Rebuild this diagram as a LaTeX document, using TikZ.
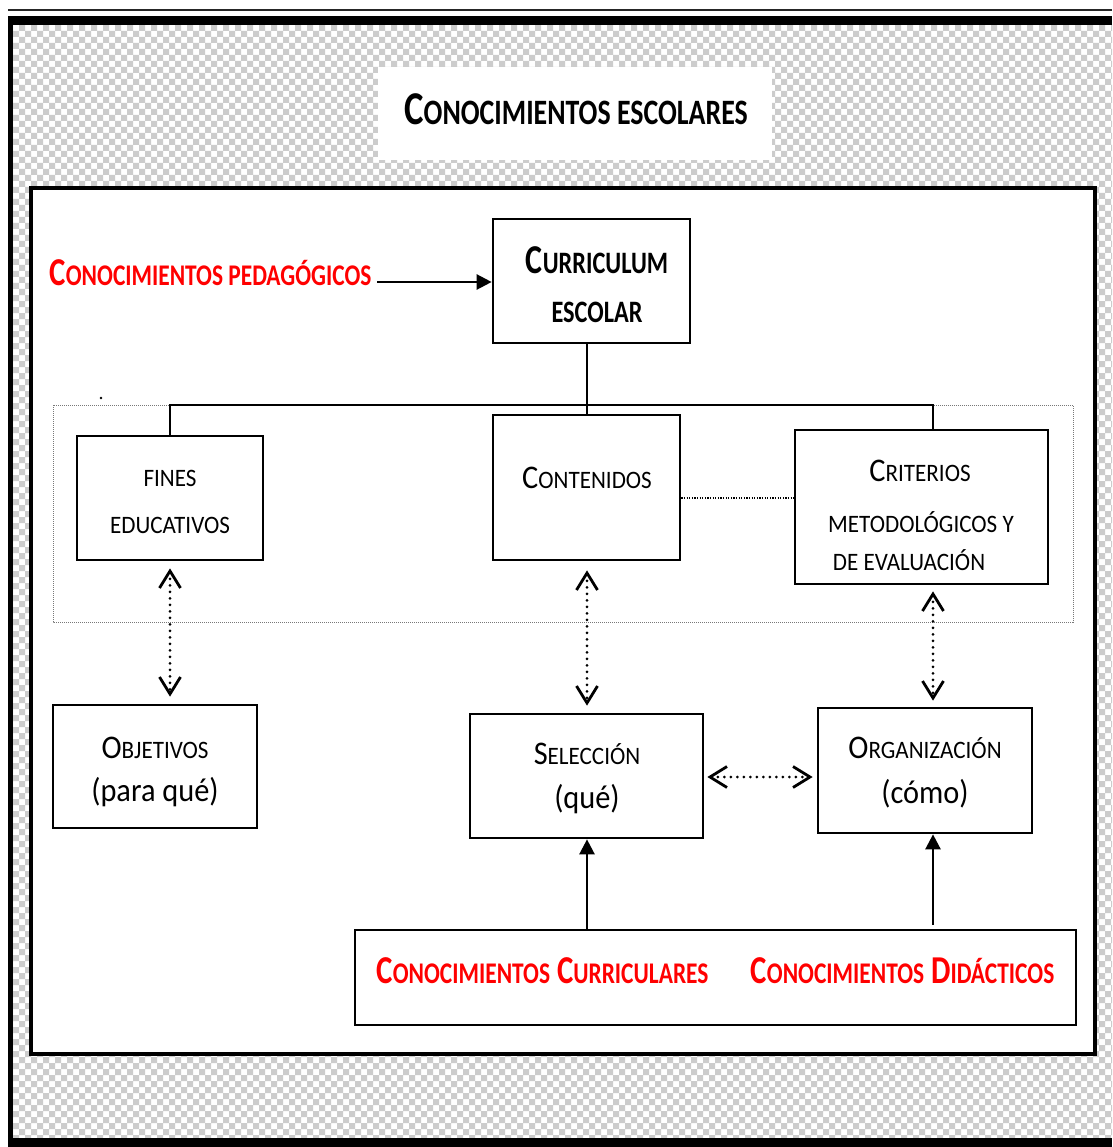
\documentclass[tikz,border=0pt]{standalone}
\usepackage{fontspec}
\setmainfont{Carlito}
\usepackage{graphicx}
\usetikzlibrary{arrows.meta}

\definecolor{checkgray}{RGB}{204,204,204}
\definecolor{framegray}{RGB}{120,120,120}

% narrow set text (bold headings / regular labels) and Word-style synthetic small capitals
\newcommand\sq[1]{\scalebox{0.78}[1]{#1}}
\newcommand\sqr[1]{\scalebox{0.92}[1]{#1}}
\newcommand\smc[1]{\scalebox{0.76}{#1}}

\tikzset{
  box/.style={draw, line width=2.7pt, fill=white, inner sep=0pt, rectangle},
  txt/.style={inner sep=0pt, anchor=base, font=\fontsize{33}{33}\selectfont},
  boldtxt/.style={txt, font=\bfseries\fontsize{41}{41}\selectfont},
  redtxt/.style={txt, text=red, font=\bfseries\fontsize{39.5}{39.5}\selectfont},
  conn/.style={line width=2.5pt},
  solidarrow/.style={line width=2.5pt, -{Triangle[length=15pt,width=15pt]}},
  barb/.style={Straight Barb[length=17pt,width=21pt,line width=2.8pt]},
  dotarrow/.style={line width=3pt, line cap=round, dash pattern=on 0pt off 6.5pt,
    {Straight Barb[length=17pt,width=21pt,line width=2.8pt]}-{Straight Barb[length=17pt,width=21pt,line width=2.8pt]}},
  dotline/.style={line width=1.3pt, dash pattern=on 1.3pt off 1.3pt},
  groupframe/.style={draw=framegray, line width=0.8pt, dash pattern=on 1pt off 1pt},
}

\begin{document}
\begin{tikzpicture}[x=1pt,y=-1pt]
\useasboundingbox (0,0) rectangle (1112,1147);
\fill[white] (0,0) rectangle (1112,1147);

% checkered background: crossing stripes filled with the even-odd rule
\begin{scope}
  \clip (13,25) rectangle (1112,1138);
  \fill[checkgray, even odd rule]
    \foreach \c in {0,...,92} {({13+12*\c},25) rectangle ++(6,1113)}
    \foreach \r in {0,...,93} {(13,{25+12*\r}) rectangle ++(1100,6)};
\end{scope}

% outer page frame
\draw[line width=1.5pt, black!85] (8,10) -- (1112,10);
\fill[black] (8,16) rectangle (1112,25);
\fill[black] (8,16) rectangle (13,1147);
\fill[black] (8,1138) rectangle (1112,1147);

% title band
\fill[white] (378,67) rectangle (772,160);
\node[boldtxt, font=\bfseries\fontsize{47}{47}\selectfont] (title) at (576,125)
  {\sq{C\smc{ONOCIMIENTOS ESCOLARES}}};

% inner white panel
\draw[line width=4.5pt, fill=white] (31,188) rectangle (1095,1054);

% group of curriculum components
\draw[groupframe] (53,405) rectangle (1073,622);
\fill (101,398) circle (1.3pt);

% boxes
\node[box, minimum width=197pt, minimum height=124pt] (curr) at (591.5,281) {};
\node[box, minimum width=186pt, minimum height=124pt] (fines) at (170,498) {};
\node[box, minimum width=187pt, minimum height=145pt] (cont) at (586.5,487.5) {};
\node[box, minimum width=253pt, minimum height=154pt] (crit) at (921.5,507) {};
\node[box, minimum width=204pt, minimum height=123pt] (obj) at (155,766.5) {};
\node[box, minimum width=233pt, minimum height=124pt] (sel) at (586.5,776) {};
\node[box, minimum width=214pt, minimum height=125pt] (org) at (925,770.5) {};
\node[box, minimum width=721pt, minimum height=95pt] (base) at (715.5,977.5) {};

% texts
\node[boldtxt] (currA) at (597,273) {\sq{C\smc{URRICULUM}}};
\node[boldtxt] (currB) at (597,322) {\sq{\smc{ESCOLAR}}};
\node[redtxt] (ped) at (210.5,286) {\sq{C\smc{ONOCIMIENTOS PEDAGÓGICOS}}};

\node[txt] (finesA) at (170,486) {\sqr{\smc{FINES}}};
\node[txt] (finesB) at (170,533) {\sqr{\smc{EDUCATIVOS}}};
\node[txt] (contA) at (587,488) {\sqr{C\smc{ONTENIDOS}}};
\node[txt] (critA) at (920,481) {\sqr{C\smc{RITERIOS}}};
\node[txt] (critB) at (921,532) {\sqr{\smc{METODOLÓGICOS Y}}};
\node[txt] (critC) at (909,570) {\sqr{\smc{DE EVALUACIÓN}}};

\node[txt] (objA) at (155,758) {\sqr{O\smc{BJETIVOS}}};
\node[txt] (objB) at (155,801) {\sqr{(para qué)}};
\node[txt] (selA) at (587,764) {\sqr{S\smc{ELECCIÓN}}};
\node[txt] (selB) at (587,808) {\sqr{(qué)}};
\node[txt] (orgA) at (925,758) {\sqr{O\smc{RGANIZACIÓN}}};
\node[txt] (orgB) at (925,803) {\sqr{(cómo)}};

\node[redtxt] (curric) at (542.5,983) {\sq{C\smc{ONOCIMIENTOS} C\smc{URRICULARES}}};
\node[redtxt] (didac) at (902.5,983) {\sq{C\smc{ONOCIMIENTOS} D\smc{IDÁCTICOS}}};

% connectors
\coordinate (pedtail) at (377,282);
\coordinate (busL) at (170,405);
\coordinate (busM) at (587,405);
\coordinate (busR) at (933,405);
\coordinate (link) at (680,498);

\draw[solidarrow] (pedtail) -- (curr.west |- pedtail);
\draw[conn] (curr.south -| busM) -- (busM);
\draw[conn] (fines.north -| busL) |- (busR) -- (crit.north -| busR);
\draw[conn] (busM) -- (cont.north -| busM);
\draw[dotline] (cont.east |- link) -- (crit.west |- link);

\draw[dotarrow, shorten <=7pt, shorten >=7pt] (fines.south -| busL) -- (obj.north -| busL);
\draw[dotarrow, shorten <=9pt, shorten >=7pt] (cont.south -| busM) -- (sel.north -| busM);
\draw[dotarrow, shorten <=6pt, shorten >=6pt] (crit.south -| busR) -- (org.north -| busR);
\draw[dotarrow, shorten <=3pt, shorten >=4pt] ([yshift=-1pt]sel.east) -- ([yshift=-1pt]sel.east -| org.west);

\draw[solidarrow] (base.north -| busM) -- (sel.south -| busM);
\draw[solidarrow, shorten <=4pt] (base.north -| busR) -- (org.south -| busR);
\end{tikzpicture}
\end{document}
